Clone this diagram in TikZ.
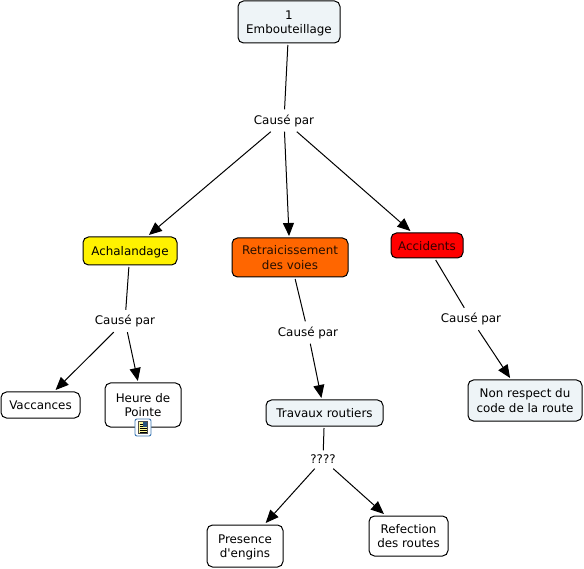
\documentclass[tikz,border=0pt]{standalone}
\usepackage{fontspec}
\setmainfont{DejaVu Sans}[Ligatures=TeXOff]
\usetikzlibrary{arrows.meta}
\definecolor{lightbox}{HTML}{EEF4F7}
\definecolor{orangebox}{HTML}{FF6600}
\definecolor{iconblue}{HTML}{3C78B4}
\tikzset{
  x=1pt,y=-1pt,
  concept/.style={draw=black,line width=1pt,rounded corners=5.5pt,align=center,inner sep=0pt,outer sep=2pt,
    font=\fontsize{11.9}{14.5}\selectfont,text=black,text depth=0pt,yshift=0pt},
  label/.style={fill=none,inner sep=0pt,align=center,font=\fontsize{11.9}{14.5}\selectfont,text=black,
    minimum width=62pt,minimum height=22pt},
  link/.style={draw=black,line width=1pt},
  arrowlink/.style={link,-{Triangle[length=13pt,width=11pt]}},
}
\begin{document}
\begin{tikzpicture}
\useasboundingbox (0,0) rectangle (584,569);
\fill[white] (0,0) rectangle (584,569);
\node[concept,fill=lightbox,minimum width=102pt,minimum height=42pt] (top) at (289,22) {1\\Embouteillage};
\node[concept,fill=yellow,minimum width=94pt,minimum height=28pt] (acha) at (130,251) {Achalandage};
\node[concept,fill=orangebox,text=black!85!orangebox,minimum width=116pt,minimum height=39pt] (retr) at (290,257.5) {Retraicissement\\des voies};
\node[concept,fill=red,text=black!80!red,minimum width=72pt,minimum height=25pt] (acci) at (427,245.5) {Accidents};
\node[concept,fill=white,minimum width=79pt,minimum height=26pt] (vacc) at (40.5,405) {Vaccances};
\node[concept,fill=white,minimum width=76pt,minimum height=44pt] (heure) at (143,405) {Heure de\\Pointe};
\node[concept,fill=lightbox,minimum width=114pt,minimum height=41pt] (nonr) at (525,400.5) {Non respect du\\code de la route};
\node[concept,fill=lightbox,minimum width=117pt,minimum height=26pt] (trav) at (324.5,413) {Travaux routiers};
\node[concept,fill=white,minimum width=76pt,minimum height=42pt] (pres) at (245,546) {Presence\\d'engins};
\node[concept,fill=white,minimum width=79pt,minimum height=40pt] (refe) at (408.5,536) {Refection\\des routes};
\node[label] (c1) at (284,120.5) {Causé par};
\node[label] (c2) at (125,321) {Causé par};
\node[label] (c3) at (308,332.5) {Causé par};
\node[label] (c4) at (471,319) {Causé par};
\node[label,minimum width=34pt,minimum height=18pt] (c5) at (323,459.5) {????};
\draw[link] (top) -- (c1);
\draw[arrowlink] (c1) -- (acha);
\draw[arrowlink] (c1) -- (retr);
\draw[arrowlink] (c1) -- (acci);
\draw[link] (acha) -- (c2);
\draw[arrowlink] (c2) -- (vacc);
\draw[arrowlink] (c2) -- (heure);
\draw[link] (retr) -- (c3);
\draw[arrowlink] (c3) -- (trav);
\draw[link] (acci) -- (c4);
\draw[arrowlink] (c4) -- (nonr);
\draw[link] (trav) -- (c5);
\draw[arrowlink] (c5) -- (pres);
\draw[arrowlink] (c5) -- (refe);
% resource icon on the Heure de Pointe concept
\draw[iconblue,fill=white,line width=0.9pt,rounded corners=2pt] (135,419) rectangle (151,436);
\fill[black!70] (138,421) rectangle (148,434);
\fill[yellow!40] (139,422) rectangle (147,433);
\fill[iconblue!70!black] (143,422) rectangle (147,426.5);
\foreach \y in {424,426,428,430,432}{\draw[black,line width=0.6pt] (139.5,\y) -- (\ifnum\y<427 142.5\else 146.5\fi,\y);}
\end{tikzpicture}
\end{document}
